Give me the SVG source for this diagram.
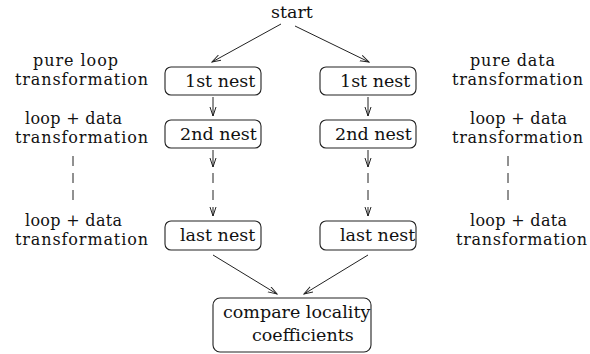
<svg xmlns="http://www.w3.org/2000/svg" width="590" height="354" viewBox="0 0 590 354">
<defs>
<marker id="ah" markerWidth="10" markerHeight="8" refX="9" refY="3.5" orient="auto" markerUnits="userSpaceOnUse">
<path d="M0,0.5 L9,3.5 L0,6.5" fill="none" stroke="#222" stroke-width="1"/>
</marker>
<style>
text{font-family:"DejaVu Serif","Liberation Serif",serif;font-size:17.5px;fill:#111}
text.lb{font-size:16px}
.box{fill:#fff;stroke:#222;stroke-width:1.1}
.ln{stroke:#222;stroke-width:1;fill:none}
.ds{stroke:#222;stroke-width:1;fill:none;stroke-dasharray:10,7}
.m{text-anchor:middle}
</style>
</defs>
<rect width="590" height="354" fill="#fff"/>
<g id="start"><text x="292" y="18" class="m">start</text></g>
<g id="l1"><rect class="box" x="165" y="67" width="96" height="28" rx="6"/><text x="185" y="87">1st nest</text></g>
<g id="r1"><rect class="box" x="320" y="67" width="96" height="28" rx="6"/><text x="340" y="87">1st nest</text></g>
<g id="l2"><rect class="box" x="165" y="120" width="96" height="28" rx="6"/><text x="180" y="140">2nd nest</text></g>
<g id="r2"><rect class="box" x="320" y="120" width="96" height="28" rx="6"/><text x="335" y="140">2nd nest</text></g>
<g id="l3"><rect class="box" x="165" y="221" width="96" height="29" rx="6"/><text x="180" y="241">last nest</text></g>
<g id="r3"><rect class="box" x="320" y="221" width="96" height="29" rx="6"/><text x="340" y="241">last nest</text></g>
<g id="cmp"><rect class="box" x="213" y="298" width="158" height="54" rx="7"/><text x="223" y="318">compare locality</text><text x="252" y="341">coefficients</text></g>
<g id="labels-left">
<text class="lb" x="33" y="66" textLength="85">pure loop</text><text class="lb" x="15" y="85" textLength="133">transformation</text>
<text class="lb" x="25" y="124" textLength="97">loop + data</text><text class="lb" x="15" y="143" textLength="133">transformation</text>
<line class="ds" x1="73" y1="156" x2="73" y2="203"/>
<text class="lb" x="25" y="226" textLength="97">loop + data</text><text class="lb" x="15" y="245" textLength="133">transformation</text>
</g>
<g id="labels-right">
<text class="lb" x="470" y="66" textLength="85">pure data</text><text class="lb" x="452" y="85" textLength="131">transformation</text>
<text class="lb" x="470" y="124" textLength="97">loop + data</text><text class="lb" x="452" y="143" textLength="131">transformation</text>
<line class="ds" x1="508" y1="156" x2="508" y2="203"/>
<text class="lb" x="470" y="226" textLength="97">loop + data</text><text class="lb" x="456" y="245" textLength="131">transformation</text>
</g>
<g id="connectors">
<line class="ln" x1="281" y1="24" x2="212" y2="62" marker-end="url(#ah)"/>
<line class="ln" x1="295" y1="26" x2="369" y2="62" marker-end="url(#ah)"/>
<line class="ln" x1="213" y1="97" x2="213" y2="116" marker-end="url(#ah)"/>
<line class="ln" x1="368" y1="97" x2="368" y2="116" marker-end="url(#ah)"/>
<line class="ln" x1="213" y1="150" x2="213" y2="167" marker-end="url(#ah)"/>
<line class="ds" x1="213" y1="173" x2="213" y2="216" marker-end="url(#ah)"/>
<line class="ln" x1="368" y1="150" x2="368" y2="167" marker-end="url(#ah)"/>
<line class="ds" x1="368" y1="173" x2="368" y2="216" marker-end="url(#ah)"/>
<line class="ln" x1="213" y1="255" x2="277" y2="294" marker-end="url(#ah)"/>
<line class="ln" x1="368" y1="255" x2="304" y2="294" marker-end="url(#ah)"/>
</g>
</svg>
